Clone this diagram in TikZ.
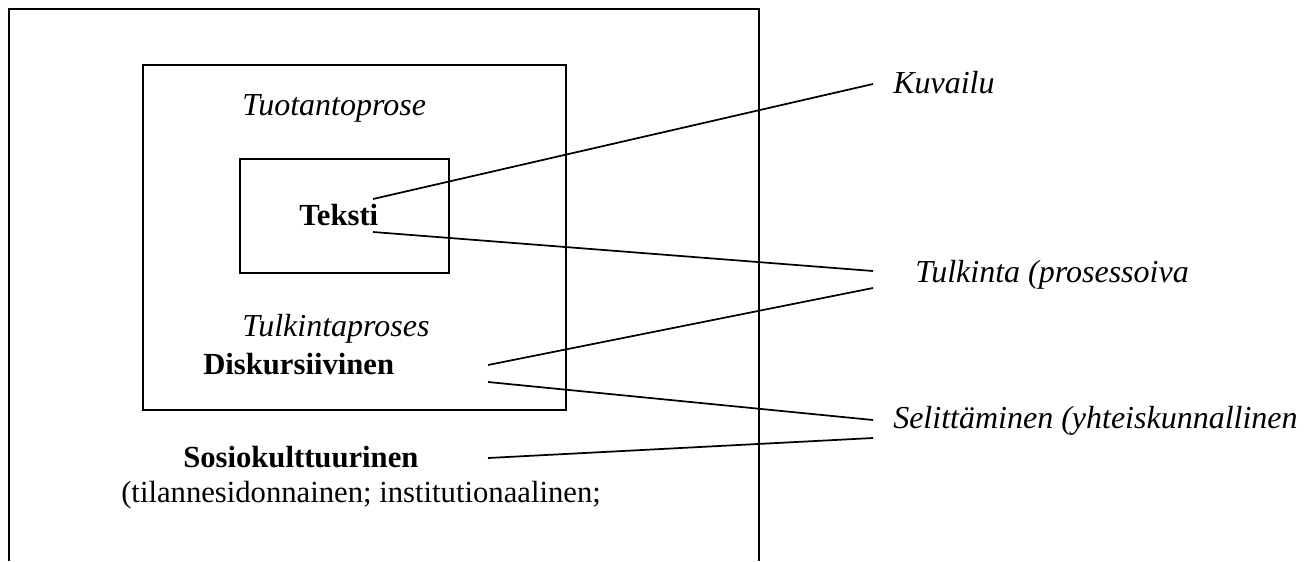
\documentclass[tikz,border=0pt]{standalone}
\usepackage{fontspec}
\setmainfont{Liberation Serif}
\tikzset{
  label/.style={inner sep=0pt, anchor=base west, font=\fontsize{24}{29}\selectfont},
  pysty/.style={label, font=\fontsize{23}{28}\selectfont},
  kehys/.style={line width=1.3pt},
  yhteys/.style={line width=1.3pt}
}
\begin{document}
\begin{tikzpicture}[x=0.75pt, y=-0.75pt]
    % kuvan rajat
    \useasboundingbox (0,0) rectangle (1313,561);

    % 1. kehykset (ulompi kehys jatkuu kuvan alareunan yli)
    \draw[kehys] (9,561) -- (9,9) -- (759,9) -- (759,561);
    \draw[kehys] (143,65) rectangle (566,410);
    \draw[kehys] (240,159) rectangle (449,273);

    % 2. tekstit kehysten sisällä
    \node[label] (tuotanto) at (242,115) {\itshape Tuotantoprose};
    \node[pysty] (teksti) at (299,225) {\bfseries Teksti};
    \node[label] (tulkproses) at (242,336) {\itshape Tulkintaproses};
    \node[pysty] (diskurs) at (203,374) {\bfseries Diskursiivinen};
    \node[pysty] (sosio) at (183,467) {\bfseries Sosiokulttuurinen};
    \node[pysty] (tilanne) at (121,502) {(tilannesidonnainen; institutionaalinen;};

    % 3. tekstit oikealla
    \node[label] (kuvailu) at (893,93) {\itshape Kuvailu};
    \node[label] (tulkinta) at (915,282) {\itshape Tulkinta (prosessoiva};
    \node[label] (selitys) at (893,428) {\itshape Selittäminen (yhteiskunnallinen};

    % 4. yhteysviivojen päät
    \coordinate (teksti-yla) at (373,199);
    \coordinate (teksti-ala) at (373,232);
    \coordinate (diskurs-yla) at (488,365);
    \coordinate (diskurs-ala) at (488,382);
    \coordinate (sosio-oik) at (488,458);
    \coordinate (kuvailu-vas) at (873,84);
    \coordinate (tulkinta-yla) at (873,271);
    \coordinate (tulkinta-ala) at (873,288);
    \coordinate (selitys-yla) at (873,420);
    \coordinate (selitys-ala) at (873,438);

    % 5. yhteysviivat
    \draw[yhteys] (teksti-yla) -- (kuvailu-vas);
    \draw[yhteys] (teksti-ala) -- (tulkinta-yla);
    \draw[yhteys] (diskurs-yla) -- (tulkinta-ala);
    \draw[yhteys] (diskurs-ala) -- (selitys-yla);
    \draw[yhteys] (sosio-oik) -- (selitys-ala);
\end{tikzpicture}
\end{document}
